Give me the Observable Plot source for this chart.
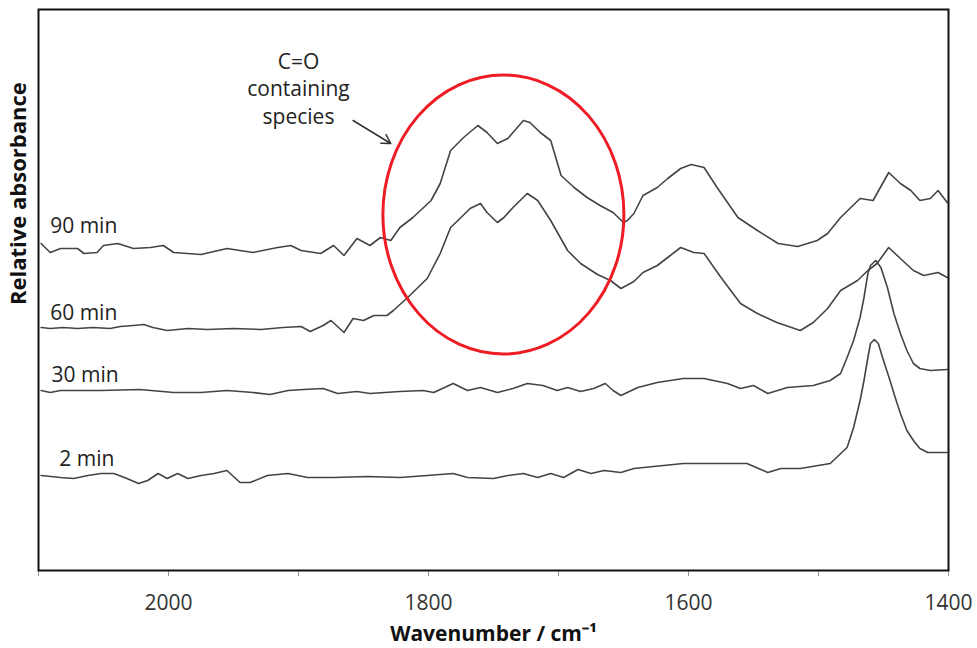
<!DOCTYPE html>
<html>
<head>
<meta charset="utf-8">
<script src="https://cdn.jsdelivr.net/npm/d3@7"></script>
<script src="https://cdn.jsdelivr.net/npm/@observablehq/plot@0.6"></script>
<style>
  body { margin: 0; background: #fff; }
</style>
</head>
<body>
<div id="chart"></div>
<script>
// Wavenumber axis: a tick every 100 cm-1, labels every 200 cm-1
const wavenumberTicks = [2100, 2000, 1900, 1800, 1700, 1600, 1500, 1400];
const labelledTicks = [2000, 1800, 1600, 1400];

// IR spectra, [wavenumber (cm-1), relative absorbance (a.u., offset per time)]
const spectrum2min = [[2098,19],[2083,18.6],[2073,18.4],[2062,19],[2052,19.4],[2042,19.4],[2032,18.4],[2023,17.4],[2016,18],[2008,19.4],[2001,18.4],[1993,19.4],[1985,18.4],[1975,19],[1965,19.4],[1955,20],[1945,17.6],[1937,17.6],[1924,19],[1908,19.4],[1893,18.6],[1873,18.6],[1847,18.8],[1822,18.6],[1801,19],[1781,19.4],[1770,18.6],[1750,18.4],[1739,19],[1727,19.4],[1716,18.6],[1706,19.4],[1696,18.6],[1685,20.2],[1675,19.4],[1665,20],[1652,19.6],[1642,20.4],[1604,21.4],[1555,21.4],[1539,19.6],[1529,20.4],[1514,20.4],[1491,21.4],[1478,24.6],[1473,28.6],[1468,34],[1465,38],[1462,42.6],[1460,45.4],[1457,46.2],[1454,45.4],[1450,42],[1445,38],[1441,34.6],[1437,31.4],[1432,28],[1427,26],[1422,24.4],[1416,23.6],[1401,23.6]];

const spectrum30min = [[2098,36],[2091,35.6],[2083,36],[2070,36],[2052,36],[2022,36.2],[1996,35.6],[1975,35.6],[1955,36],[1935,35.6],[1922,35.2],[1908,36],[1896,36.2],[1881,36.4],[1870,35.4],[1855,35.8],[1845,35.4],[1822,35.8],[1804,36],[1796,35.6],[1781,37.4],[1770,36],[1760,36.6],[1747,35.6],[1735,36.4],[1724,37.4],[1712,37],[1701,36],[1693,36.6],[1683,35.8],[1673,36.4],[1664,37.4],[1658,36],[1652,35],[1639,36.6],[1624,37.6],[1604,38.4],[1588,38.4],[1570,37.4],[1560,36.4],[1550,37],[1539,35.4],[1524,36.6],[1504,37],[1491,38],[1483,39.4],[1478,42.6],[1473,46],[1468,50.6],[1465,54.6],[1462,59.4],[1460,61],[1456,62],[1452,60.6],[1447,56.6],[1442,51.4],[1437,47.4],[1432,44],[1427,41.4],[1422,40.4],[1414,40],[1401,40.2]];

const spectrum60min = [[2098,48.6],[2091,48.4],[2081,48.6],[2070,48.4],[2058,48.6],[2045,48.4],[2037,48.8],[2027,49],[2019,49.2],[2012,48.6],[2001,48],[1985,48.4],[1970,48.2],[1950,48.4],[1929,48.2],[1912,48.6],[1898,48.8],[1891,47.8],[1881,49],[1875,50],[1865,47.6],[1858,50.4],[1850,50],[1842,51],[1832,51],[1827,52],[1816,54.6],[1801,58.4],[1791,63.4],[1783,68.6],[1775,70.6],[1768,72.4],[1760,73.4],[1755,71.6],[1747,69.6],[1742,70.6],[1735,72.6],[1724,75.4],[1716,74],[1706,70],[1693,64],[1683,61.4],[1670,59.2],[1660,58],[1652,56.4],[1642,57.8],[1635,59.6],[1624,61],[1616,62.6],[1606,64.6],[1596,63.6],[1588,63.4],[1575,58.6],[1560,53.4],[1547,51.4],[1532,49.6],[1514,48],[1504,49.6],[1493,52.4],[1483,56],[1470,58],[1462,60],[1455,61.4],[1446,64.6],[1437,62.4],[1427,60],[1419,59],[1408,59.6],[1401,58.6]];

const spectrum90min = [[2098,65.4],[2091,63.6],[2083,64.4],[2070,64.4],[2065,63.4],[2055,63.6],[2050,65],[2039,65.4],[2027,64.4],[2014,64.6],[2004,65],[1996,63.6],[1975,63.2],[1955,64.4],[1935,63.6],[1916,64.6],[1906,65],[1898,64],[1883,63.4],[1873,65],[1865,63],[1855,66.4],[1845,65],[1837,66.6],[1829,66],[1822,68.6],[1812,70.6],[1798,74],[1791,77.4],[1783,84],[1773,86.6],[1762,89],[1755,87.6],[1747,85.4],[1739,86.4],[1735,87.6],[1727,90],[1722,89.6],[1714,87.6],[1706,86],[1698,79],[1688,76.6],[1678,74.6],[1668,73],[1658,71.6],[1650,69.6],[1647,70],[1642,71.4],[1635,75],[1624,76.6],[1616,78.4],[1606,80.4],[1598,81.2],[1588,80.6],[1578,76.6],[1562,70.6],[1547,68],[1531,65.4],[1516,64.8],[1501,66],[1493,67.4],[1483,70.6],[1468,74.4],[1458,74],[1446,79.6],[1437,77.4],[1429,76],[1422,74],[1414,74.4],[1408,76],[1401,73.6]];

// Series names and where their labels sit, [wavenumber, absorbance]
const seriesNames = ["2 min", "30 min", "60 min", "90 min"];
const seriesLabelPos = [[2084, 22.2], [2090, 39], [2091, 51.4], [2091, 68.8]];

// Carbonyl region highlight: centre and half-widths in data units
const carbonylCentre = [1742, 71.1];
const carbonylHalfWidth = [92.7, 27.9];
const carbonylNote = "C=O\ncontaining\nspecies";
const notePos = [1900, 96.6];
const arrowFrom = [1858, 90];
const arrowTo = [1829, 85.4];

const spectra = [spectrum2min, spectrum30min, spectrum60min, spectrum90min];
const rows = spectra.flatMap((s, i) =>
  s.map(([wavenumber, absorbance]) => ({series: seriesNames[i], wavenumber, absorbance})));
const labels = seriesNames.map((name, i) => ({name, x: seriesLabelPos[i][0], y: seriesLabelPos[i][1]}));

// Red ellipse drawn through the x and y scales
function ellipseMark([cx, cy], [hx, hy]) {
  return (index, scales) => {
    const x0 = scales.x(cx), y0 = scales.y(cy);
    return d3.create("svg:ellipse")
      .attr("cx", x0).attr("cy", y0)
      .attr("rx", Math.abs(scales.x(cx + hx) - x0))
      .attr("ry", Math.abs(scales.y(cy + hy) - y0))
      .attr("fill", "none")
      .attr("stroke", "#ee1c25")
      .attr("stroke-width", 3)
      .node();
  };
}

const chart = Plot.plot({
  width: 977,
  height: 648,
  marginLeft: 38,
  marginRight: 29,
  marginTop: 9,
  marginBottom: 78,
  style: {fontFamily: "'Open Sans', sans-serif", fontSize: "21px", background: "#fff", color: "#222"},
  x: {domain: [2100, 1400]},
  y: {domain: [0, 112.2], axis: null},
  marks: [
    Plot.axisX({
      ticks: wavenumberTicks,
      tickFormat: d => labelledTicks.includes(d) ? String(d) : "",
      tickSize: 6,
      tickPadding: 19,
      stroke: "#999",
      color: "#333",
      fontSize: 21,
      label: null
    }),
    Plot.line(rows, {x: "wavenumber", y: "absorbance", z: "series", stroke: "#444", strokeWidth: 1.6}),
    Plot.text(labels, {x: "x", y: "y", text: "name", textAnchor: "start", fill: "#222", fontSize: 21}),
    ellipseMark(carbonylCentre, carbonylHalfWidth),
    Plot.arrow([{x1: arrowFrom[0], y1: arrowFrom[1], x2: arrowTo[0], y2: arrowTo[1]}], {
      x1: "x1", y1: "y1", x2: "x2", y2: "y2", stroke: "#333", strokeWidth: 1.5, headLength: 10
    }),
    Plot.text([carbonylNote], {x: notePos[0], y: notePos[1], text: d => d, fill: "#222", fontSize: 21, lineHeight: 1.33}),
    Plot.text(["Relative absorbance"], {frameAnchor: "left", rotate: -90, dx: -20, dy: 15, fontWeight: "bold", fontSize: 22, fill: "#111"}),
    Plot.text(["Wavenumber / cm⁻¹"], {frameAnchor: "bottom", dy: 70, fontWeight: "bold", fontSize: 21, fill: "#111"}),
    Plot.frame({stroke: "#111", strokeWidth: 2})
  ]
});
document.getElementById("chart").append(chart);
</script>
</body>
</html>
